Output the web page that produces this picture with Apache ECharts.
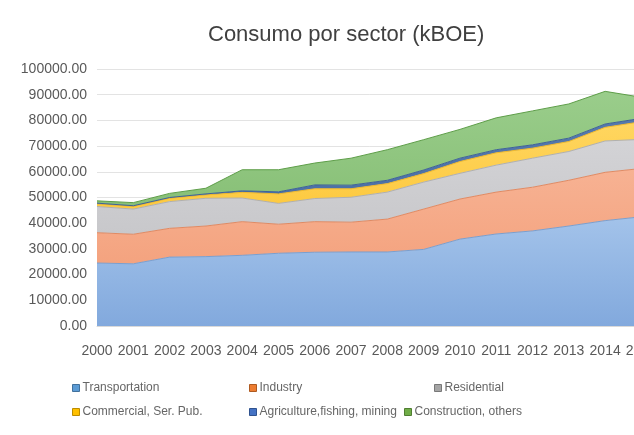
<!DOCTYPE html>
<html>
<head>
<meta charset="utf-8">
<script src="https://cdn.jsdelivr.net/npm/echarts@6/dist/echarts.min.js"></script>
<style>
html,body{margin:0;padding:0;overflow:hidden;background:#fff;width:634px;height:435px;}
#c{width:660px;height:435px;}
</style>
</head>
<body>
<div id="c"></div>
<script>
const years = ['2000','2001','2002','2003','2004','2005','2006','2007','2008','2009','2010','2011','2012','2013','2014','2015'];
const transportation = [24500, 24200, 26800, 27000, 27500, 28300, 28700, 28800, 28800, 29800, 33800, 35800, 37000, 38900, 41000, 42500];
const industry       = [11800, 11500, 11200, 11900, 13100, 11300, 11900, 11600, 12800, 15700, 15600, 16300, 17000, 17800, 18800, 18800];
const residential    = [10200, 9800, 10400, 10800, 9200, 8100, 9000, 9700, 10500, 10500, 10000, 10500, 11300, 11200, 12200, 11300];
const commercial     = [1000, 1000, 1300, 1300, 2200, 3700, 3800, 3300, 3300, 3300, 4600, 4800, 3900, 3900, 5300, 6900];
const agriculture    = [300, 300, 300, 400, 600, 800, 1500, 1400, 1300, 1400, 1300, 1200, 1300, 1300, 1300, 1300];
const construction   = [900, 1200, 1600, 2200, 8200, 8600, 8500, 10500, 11900, 11800, 11200, 12400, 13200, 13300, 12700, 8200];
const seriesNames = ['Transportation','Industry','Residential','Commercial, Ser. Pub.','Agriculture,fishing, mining','Construction, others'];

const styles = [
  {top:'#a3c3ea', bot:'#82a9dd', line:'#7a9fcf', icon:'#5b9bd5', iconB:'#41719c'},
  {top:'#f7b293', bot:'#f4a37f', line:'#e08a63', icon:'#ed7d31', iconB:'#ae5a21'},
  {top:'#d3d3d6', bot:'#c8c8cb', line:'#b0b0b0', icon:'#a5a5a5', iconB:'#787878'},
  {top:'#ffd660', bot:'#fdc93f', line:'#f0b92a', icon:'#ffc000', iconB:'#bc8c00'},
  {top:'#5579ae', bot:'#4a6fa5', line:'#3e6298', icon:'#4472c4', iconB:'#2f528f'},
  {top:'#9acd8b', bot:'#88c077', line:'#5e9e49', icon:'#70ad47', iconB:'#507e32'}
];
const dataArr = [transportation, industry, residential, commercial, agriculture, construction];

const series = seriesNames.map((n, i) => ({
  name: n,
  type: 'line',
  stack: 'total',
  data: dataArr[i],
  symbol: 'none',
  smooth: false,
  lineStyle: {width: 1, color: styles[i].line},
  itemStyle: {color: styles[i].icon, borderColor: styles[i].iconB, borderWidth: 1},
  areaStyle: {
    opacity: 1,
    color: new echarts.graphic.LinearGradient(0, 0, 0, 1, [
      {offset: 0, color: styles[i].top},
      {offset: 1, color: styles[i].bot}
    ])
  }
}));

const legendPos = [
  {left: 72, top: 382},
  {left: 249, top: 382},
  {left: 434, top: 382},
  {left: 72, top: 406},
  {left: 249, top: 406},
  {left: 404, top: 406}
];
const legends = seriesNames.map((n, i) => ({
  data: [n],
  left: legendPos[i].left,
  top: legendPos[i].top,
  icon: 'rect',
  itemWidth: 7,
  itemHeight: 7,
  itemGap: 4,
  padding: 0,
  selectedMode: false,
  textStyle: {fontSize: 12, color: '#666666', fontFamily: 'Liberation Sans, Arial, sans-serif', padding: [0,0,0,-2]},
  itemStyle: {color: styles[i].icon, borderColor: styles[i].iconB, borderWidth: 1}
}));

const chart = echarts.init(document.getElementById('c'), null, {renderer: 'canvas'});
chart.setOption({
  animation: false,
  backgroundColor: '#fff',
  title: {
    text: 'Consumo por sector (kBOE)',
    left: 203,
    top: 19,
    textStyle: {fontSize: 22, fontWeight: 'normal', color: '#404040', fontFamily: 'Liberation Sans, Arial, sans-serif'}
  },
  legend: legends,
  grid: {left: 97, right: 15.5, top: 69, bottom: 109, containLabel: false},
  xAxis: {
    type: 'category',
    data: years,
    boundaryGap: false,
    axisLine: {show: true, lineStyle: {color: '#d9d9d9'}},
    axisTick: {show: false},
    axisLabel: {color: '#595959', fontSize: 14, margin: 18, interval: 0, fontFamily: 'Liberation Sans, Arial, sans-serif'},
    splitLine: {show: false}
  },
  yAxis: {
    type: 'value',
    min: 0,
    max: 100000,
    interval: 10000,
    axisLine: {show: false},
    axisTick: {show: false},
    axisLabel: {color: '#595959', fontSize: 14, margin: 10, formatter: v => v.toFixed(2), fontFamily: 'Liberation Sans, Arial, sans-serif'},
    splitLine: {lineStyle: {color: '#e3e3e3', width: 1}}
  },
  series: series
});
</script>
</body>
</html>
